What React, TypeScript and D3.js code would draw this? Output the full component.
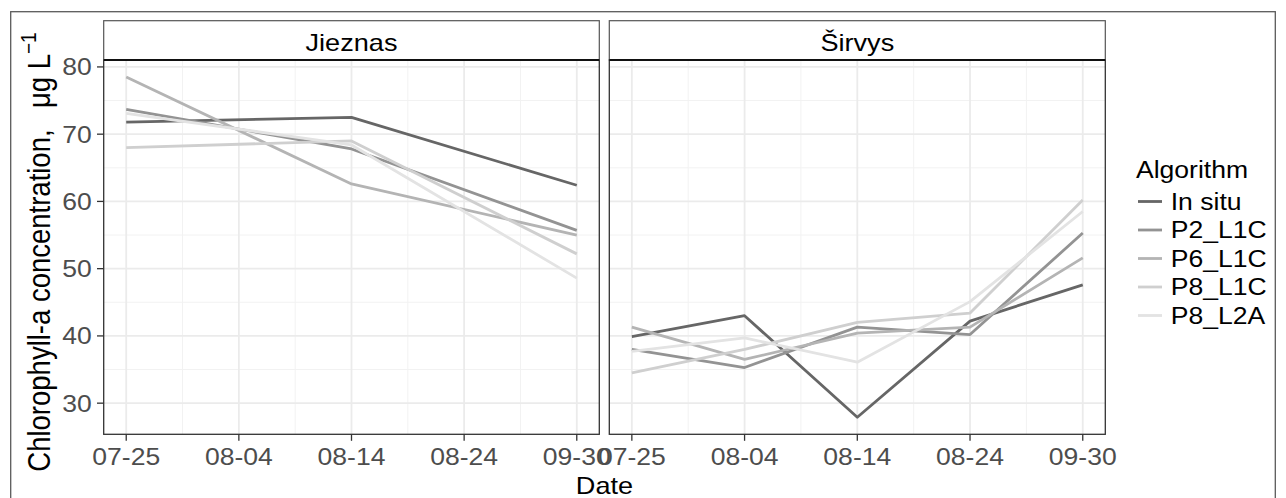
import React from "react";
import * as d3 from "d3";

const dates = ["07-25", "08-04", "08-14", "08-24", "09-30"];
const algorithms = ["In situ", "P2_L1C", "P6_L1C", "P8_L1C", "P8_L2A"];
const colors = ["#666666", "#939393", "#B4B4B4", "#CFCFCF", "#E3E3E3"];
const panels = ["Jieznas", "Širvys"];
const yTicks = [30, 40, 50, 60, 70, 80];
const yMinor = [35, 45, 55, 65, 75];

// Jieznas (values per date; null = no observation)
const jInSitu = [71.8, null, 72.5, null, 62.4];
const jP2L1C = [73.7, null, 67.8, null, 55.7];
const jP6L1C = [78.5, null, 62.6, null, 55.0];
const jP8L1C = [68.0, null, 69.0, null, 52.2];
const jP8L2A = [73.1, null, 68.4, null, 48.6];

// Širvys
const sInSitu = [39.9, 43.0, 27.9, 42.2, 47.6];
const sP2L1C = [38.0, 35.3, 41.3, 40.2, 55.3];
const sP6L1C = [41.3, 36.5, 40.4, 41.3, 51.6];
const sP8L1C = [34.5, 38.0, 42.0, 43.4, 60.2];
const sP8L2A = [37.7, 39.7, 36.1, 45.1, 58.5];

const panelSeries = [
  [jInSitu, jP2L1C, jP6L1C, jP8L1C, jP8L2A],
  [sInSitu, sP2L1C, sP6L1C, sP8L1C, sP8L2A],
];

const SX = 1.13;
const FONT = "'Liberation Sans', Arial, Helvetica, sans-serif";

function T(props: any) {
  const { x, y, anchor = "start", size = 23.5, fill = "#000", base, children } = props;
  return (
    <text
      transform={`translate(${x},${y}) scale(${SX},1)`}
      textAnchor={anchor}
      fontSize={size}
      fill={fill}
      fontFamily={FONT}
      dominantBaseline={base}
    >
      {children}
    </text>
  );
}

export default function App() {
  const W = 1286;
  const H = 498;
  const panelTop = 60;
  const panelBottom = 434.3;
  const stripTop = 20.7;
  const panelX = [
    [103.7, 599.3],
    [609.3, 1105.3],
  ];

  const allVals: number[] = [];
  panelSeries.forEach((ps) => ps.forEach((s) => s.forEach((v) => v != null && allVals.push(v as number))));
  const vmin = d3.min(allVals)!;
  const vmax = d3.max(allVals)!;
  const pad = (vmax - vmin) * 0.05;
  const y = d3.scaleLinear().domain([vmin - pad, vmax + pad]).range([panelBottom, panelTop]);

  return (
    <div style={{ position: "absolute", left: 0, top: 0 }}>
      <svg width={W} height={H} style={{ display: "block", background: "#fff" }}>
        <rect x={0} y={0} width={W} height={H} fill="#fff" />
        {/* outer border */}
        <rect x={10.7} y={11.7} width={1264.6} height={495} fill="none" stroke="#5a5a5a" strokeWidth={1.3} />

        {panels.map((name, pi) => {
          const [x0, x1] = panelX[pi];
          const x = d3.scaleLinear().domain([-0.2, dates.length - 1 + 0.2]).range([x0, x1]);
          const minorX = d3.range(dates.length - 1).map((i) => i + 0.5);
          const line = d3
            .line<[number, number]>()
            .x((d) => x(d[0]))
            .y((d) => y(d[1]));
          return (
            <g key={name}>
              <rect x={x0} y={panelTop} width={x1 - x0} height={panelBottom - panelTop} fill="#fff" />
              {yMinor.map((v) => (
                <line key={"ym" + v} x1={x0} x2={x1} y1={y(v)} y2={y(v)} stroke="#f2f2f2" strokeWidth={1} />
              ))}
              {minorX.map((v) => (
                <line key={"xm" + v} x1={x(v)} x2={x(v)} y1={panelTop} y2={panelBottom} stroke="#f2f2f2" strokeWidth={1} />
              ))}
              {yTicks.map((v) => (
                <line key={"yM" + v} x1={x0} x2={x1} y1={y(v)} y2={y(v)} stroke="#ebebeb" strokeWidth={1.8} />
              ))}
              {dates.map((d, i) => (
                <line key={"xM" + d} x1={x(i)} x2={x(i)} y1={panelTop} y2={panelBottom} stroke="#ebebeb" strokeWidth={1.8} />
              ))}
              {panelSeries[pi].map((s, si) => {
                const pts = s
                  .map((v, i) => [i, v] as [number, number | null])
                  .filter((p) => p[1] != null) as [number, number][];
                return (
                  <path
                    key={algorithms[si]}
                    d={line(pts) || ""}
                    fill="none"
                    stroke={colors[si]}
                    strokeWidth={2.8}
                    strokeLinejoin="round"
                  />
                );
              })}
              <rect x={x0} y={panelTop} width={x1 - x0} height={panelBottom - panelTop} fill="none" stroke="#333" strokeWidth={1.3} />
              {/* strip */}
              <rect x={x0} y={stripTop} width={x1 - x0} height={panelTop - stripTop} fill="#fff" stroke="#555" strokeWidth={1.2} />
              <line x1={x0} x2={x1} y1={panelTop} y2={panelTop} stroke="#111" strokeWidth={2} />
              <T x={(x0 + x1) / 2} y={50.7} anchor="middle" size={24}>
                {name}
              </T>
              {/* x axis */}
              {dates.map((d, i) => (
                <g key={"xt" + d}>
                  <line x1={x(i)} x2={x(i)} y1={panelBottom} y2={panelBottom + 6.5} stroke="#333" strokeWidth={1.3} />
                  <T x={x(i)} y={465} anchor="middle" fill="#4d4d4d">
                    {d}
                  </T>
                </g>
              ))}
            </g>
          );
        })}

        {/* y axis (left panel only) */}
        {yTicks.map((v) => (
          <g key={"yt" + v}>
            <line x1={97} x2={103.7} y1={y(v)} y2={y(v)} stroke="#333" strokeWidth={1.3} />
            <T x={91.7} y={y(v)} anchor="end" fill="#4d4d4d" base="central">
              {String(v)}
            </T>
          </g>
        ))}

        {/* axis titles */}
        <T x={604.5} y={493.5} anchor="middle" size={24}>
          Date
        </T>
        <text
          transform={`translate(50,252) scale(${SX},1) rotate(-90)`}
          textAnchor="middle"
          fontSize={27.5}
          fontFamily={FONT}
          fill="#000"
          style={{ whiteSpace: "pre" }}
        >
          {"Chlorophyll-a concentration,\u2002 μg L"}
          <tspan fontSize={19} dy={-12}>
            {"\u22121"}
          </tspan>
        </text>

        {/* legend */}
        <T x={1136} y={178.3} size={23.5}>
          Algorithm
        </T>
        {algorithms.map((a, i) => {
          const cy = 201.5 + i * 28.5;
          return (
            <g key={"lg" + a}>
              <line x1={1138} x2={1162} y1={cy} y2={cy} stroke={colors[i]} strokeWidth={2.8} />
              <T x={1170.7} y={cy} base="central" size={23.5}>
                {a}
              </T>
            </g>
          );
        })}
      </svg>
    </div>
  );
}
